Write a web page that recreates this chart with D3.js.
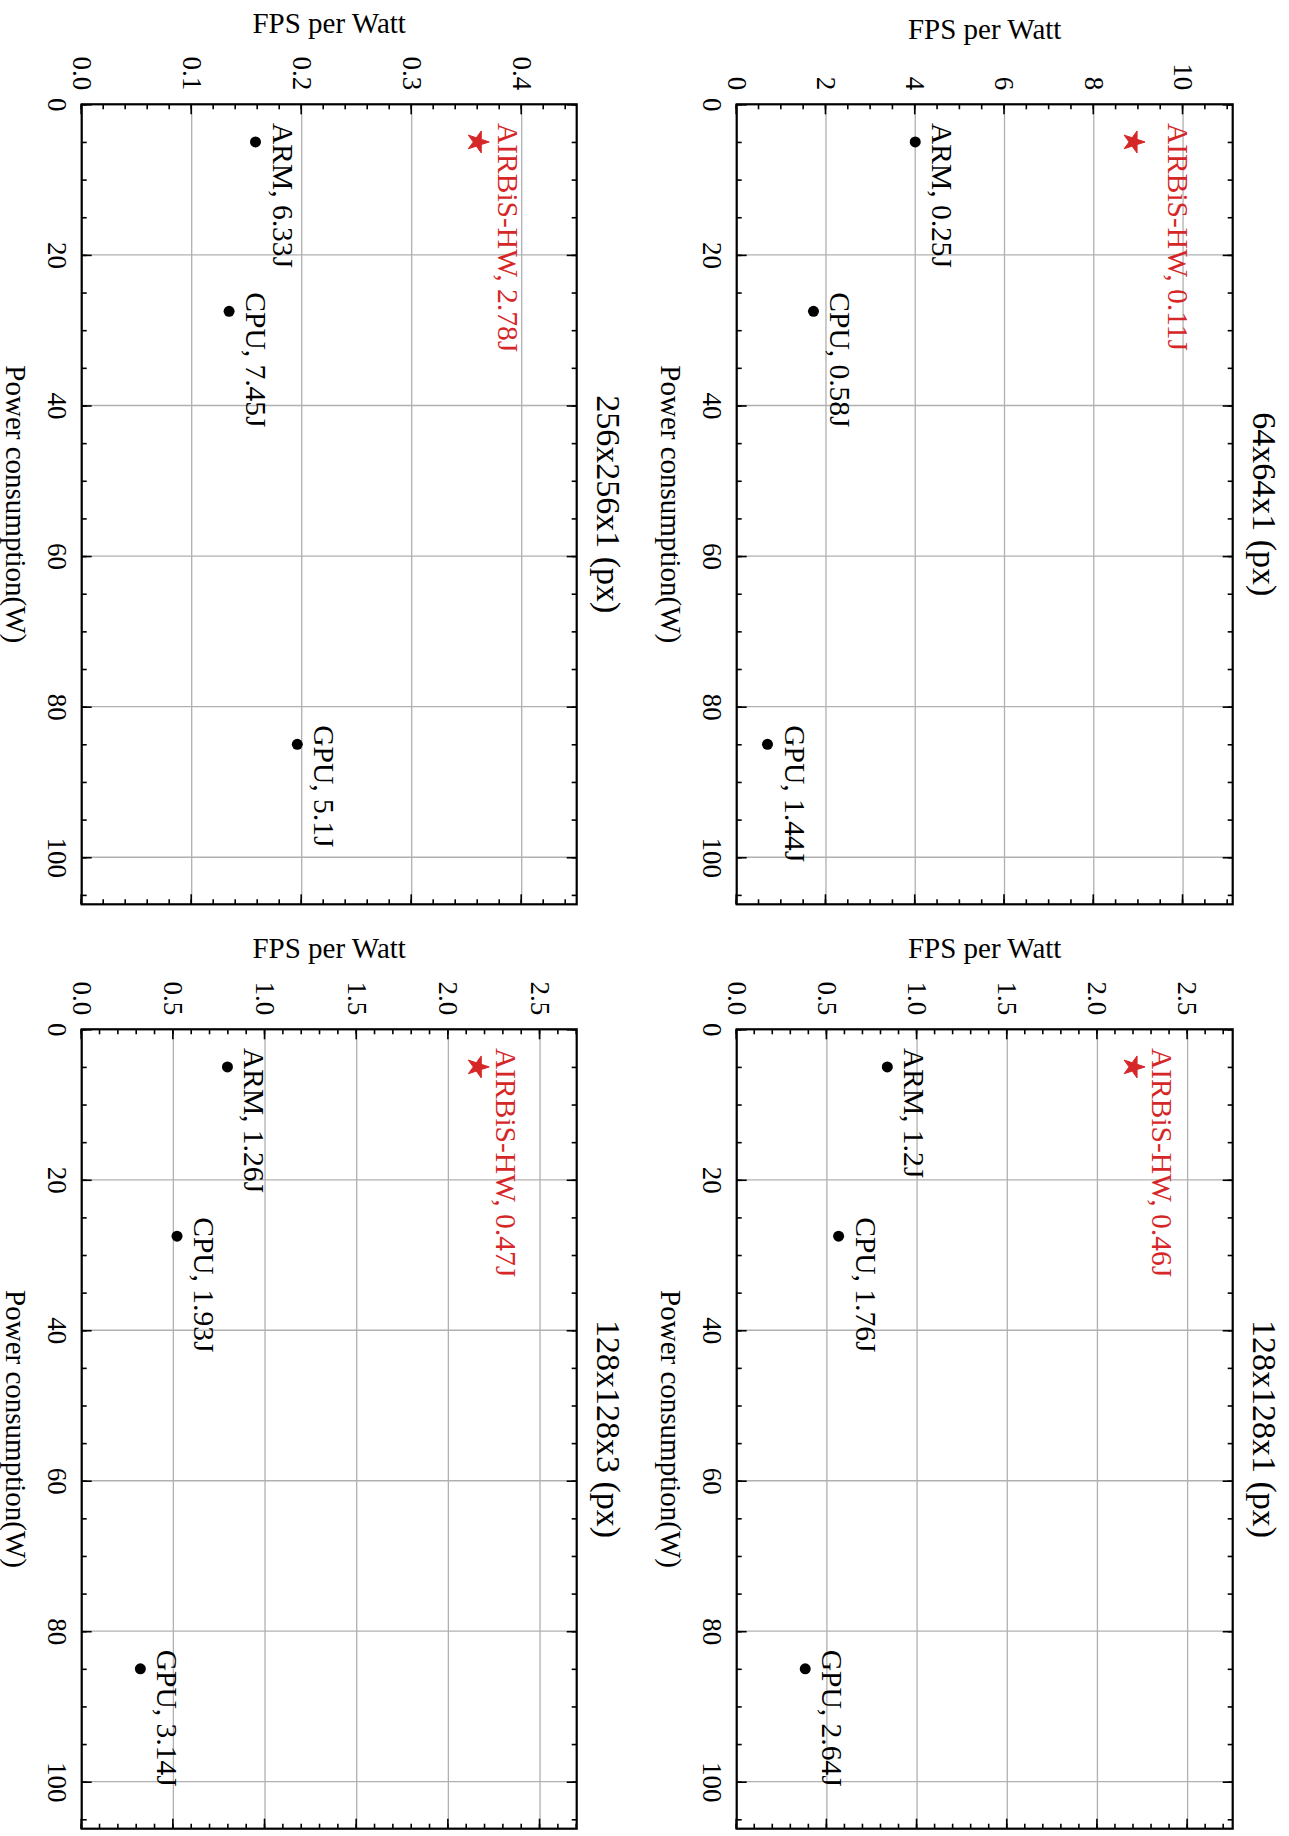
<!DOCTYPE html>
<html>
<head>
<meta charset="utf-8">
<style>
    body { margin: 0; background: white; }
    svg text { font-family: "Liberation Serif", "Times New Roman", serif; fill: black; }
    .frame { fill: none; stroke: black; stroke-width: 2.2; }
    .grid line { stroke: #b0b0b0; stroke-width: 1.3; }
    .axis .tick line { stroke: black; stroke-width: 1.6; }
    .axis text { font-size: 27px; }
</style>
</head>
<body>
<div id="figure"></div>
<script src="https://cdn.jsdelivr.net/npm/d3@7/dist/d3.min.js"></script>
<script>

//////////////////// donnees ////////////////////
const devices = ["AIRBiS-HW", "ARM", "CPU", "GPU"];
const powerW = [5, 5, 27.5, 85];

const panelTitles = ["64x64x1 (px)", "128x128x1 (px)", "256x256x1 (px)", "128x128x3 (px)"];

const fps64x64x1   = [8.89, 4.00, 1.72, 0.69];
const fps128x128x1 = [2.20, 0.835, 0.565, 0.38];
const fps256x256x1 = [0.360, 0.158, 0.134, 0.196];
const fps128x128x3 = [2.16, 0.795, 0.52, 0.32];

const joules64x64x1   = ["0.11J", "0.25J", "0.58J", "1.44J"];
const joules128x128x1 = ["0.46J", "1.2J", "1.76J", "2.64J"];
const joules256x256x1 = ["2.78J", "6.33J", "7.45J", "5.1J"];
const joules128x128x3 = ["0.47J", "1.26J", "1.93J", "3.14J"];

const powerTicks = [0, 20, 40, 60, 80, 100];
const powerTickLabels = ["0", "20", "40", "60", "80", "100"];
const fpsTicks64 = [0, 2, 4, 6, 8, 10];
const fpsTickLabels64 = ["0", "2", "4", "6", "8", "10"];
const fpsTicks256 = [0, 0.1, 0.2, 0.3, 0.4];
const fpsTickLabels256 = ["0.0", "0.1", "0.2", "0.3", "0.4"];
const fpsTicks128 = [0, 0.5, 1, 1.5, 2, 2.5];
const fpsTickLabels128 = ["0.0", "0.5", "1.0", "1.5", "2.0", "2.5"];

//////////////////// mise en page ////////////////////
const W = 1289, H = 1836;
const RED = "#d62728";
// la figure est dessinee en paysage (1836 x 1289) puis tournee d'un quart de tour
const colU = [[104.3, 904.3], [1029.3, 1828.7]];
const rowV = [[56.3, 552.3], [712.3, 1207.3]];

const panels = [
    { title: panelTitles[0], fps: fps64x64x1,   joules: joules64x64x1,   ticks: fpsTicks64,  labels: fpsTickLabels64,  col: 0, row: 0, redLift: 34 },
    { title: panelTitles[1], fps: fps128x128x1, joules: joules128x128x1, ticks: fpsTicks128, labels: fpsTickLabels128, col: 1, row: 0, redLift: 18 },
    { title: panelTitles[2], fps: fps256x256x1, joules: joules256x256x1, ticks: fpsTicks256, labels: fpsTickLabels256, col: 0, row: 1, redLift: 20 },
    { title: panelTitles[3], fps: fps128x128x3, joules: joules128x128x3, ticks: fpsTicks128, labels: fpsTickLabels128, col: 1, row: 1, redLift: 18 },
];

const svg = d3.select('#figure').append('svg')
    .attr('width', W)
    .attr('height', H);
svg.append('rect').attr('width', W).attr('height', H).attr('fill', 'white');

const fig = svg.append('g')
    .attr('transform', `translate(${W},0) rotate(90)`);

panels.forEach(drawPanel);

//////////////////// fonction ////////////////////
function drawPanel(p) {
    const [L, R] = colU[p.col];
    const [T, B] = rowV[p.row];

    const x = d3.scaleLinear().domain([0, d3.max(powerW) * 1.25]).range([L, R]);
    const y = d3.scaleLinear().domain([0, d3.max(p.fps) * 1.25]).range([B, T]);

    const g = fig.append('g');

    // grille
    const grid = g.append('g').classed('grid', true);
    grid.selectAll('line.gx').data(powerTicks).join('line')
        .attr('class', 'gx')
        .attr('x1', d => x(d)).attr('x2', d => x(d))
        .attr('y1', T).attr('y2', B);
    grid.selectAll('line.gy').data(p.ticks).join('line')
        .attr('class', 'gy')
        .attr('x1', L).attr('x2', R)
        .attr('y1', d => y(d)).attr('y2', d => y(d));

    // graduations (vers l'interieur, sur les quatre cotes)
    const minorX = x.ticks(20), minorY = y.ticks(20);
    const addAxis = (axis, tr) => {
        const a = g.append('g').classed('axis', true).attr('transform', tr).call(axis);
        a.select('.domain').remove();
        return a;
    };
    addAxis(d3.axisBottom(x).tickValues(minorX).tickSize(-5).tickFormat(''), `translate(0,${B})`);
    addAxis(d3.axisTop(x).tickValues(minorX).tickSize(-5).tickFormat(''), `translate(0,${T})`);
    addAxis(d3.axisLeft(y).tickValues(minorY).tickSize(-5).tickFormat(''), `translate(${L},0)`);
    addAxis(d3.axisRight(y).tickValues(minorY).tickSize(-5).tickFormat(''), `translate(${R},0)`);

    addAxis(d3.axisBottom(x).tickValues(powerTicks).tickSize(-10).tickPadding(15)
        .tickFormat((d, i) => powerTickLabels[i]), `translate(0,${B})`);
    addAxis(d3.axisTop(x).tickValues(powerTicks).tickSize(-10).tickFormat(''), `translate(0,${T})`);
    const left = addAxis(d3.axisLeft(y).tickValues(p.ticks).tickSize(-10).tickPadding(14)
        .tickFormat((d, i) => p.labels[i]), `translate(${L},0)`);
    addAxis(d3.axisRight(y).tickValues(p.ticks).tickSize(-10).tickFormat(''), `translate(${R},0)`);

    g.selectAll('.axis text').attr('fill', 'black');

    g.append('rect')
        .classed('frame', true)
        .attr('x', L).attr('y', T)
        .attr('width', R - L).attr('height', B - T);

    // points
    const pts = devices.map((d, i) => ({ device: d, power: powerW[i], fps: p.fps[i], joule: p.joules[i], i: i }));

    g.selectAll('circle.pt').data(pts.filter(d => d.i > 0)).join('circle')
        .attr('class', 'pt')
        .attr('cx', d => x(d.power))
        .attr('cy', d => y(d.fps))
        .attr('r', 5.5)
        .attr('fill', 'black');

    g.selectAll('path.star').data(pts.filter(d => d.i == 0)).join('path')
        .attr('class', 'star')
        .attr('d', d3.symbol(d3.symbolStar, 150))
        .attr('transform', d => `translate(${x(d.power)},${y(d.fps)})`)
        .attr('fill', RED)
        .attr('stroke', RED)
        .attr('stroke-width', 1)
        .attr('stroke-linejoin', 'round');

    g.selectAll('text.lbl').data(pts).join('text')
        .attr('class', 'lbl')
        .attr('x', d => x(d.power) - 19)
        .attr('y', d => y(d.fps) - (d.i == 0 ? p.redLift : 17))
        .attr('font-size', 29.5)
        .style('fill', d => d.i == 0 ? RED : 'black')
        .text(d => `${d.device}, ${d.joule}`);

    // titres des axes
    g.append('text')
        .attr('x', (L + R) / 2)
        .attr('y', B + 76)
        .attr('text-anchor', 'middle')
        .attr('font-size', 29)
        .text('Power consumption(W)');

    const bb = left.node().getBBox();
    const yl = L + bb.x - 24;
    g.append('text')
        .attr('transform', `translate(${yl},${(T + B) / 2}) rotate(-90)`)
        .attr('text-anchor', 'middle')
        .attr('font-size', 29)
        .text('FPS per Watt');

    g.append('text')
        .attr('x', (L + R) / 2)
        .attr('y', T - 20)
        .attr('text-anchor', 'middle')
        .attr('font-size', 34)
        .text(p.title);
}

</script>
</body>
</html>
